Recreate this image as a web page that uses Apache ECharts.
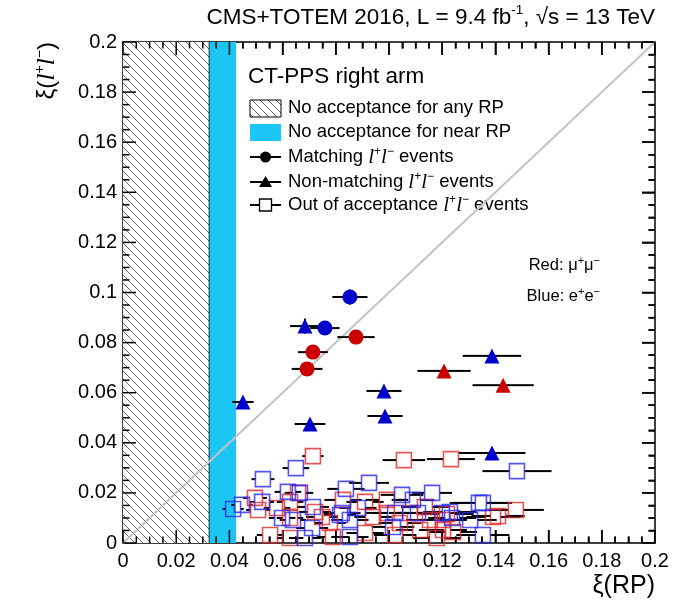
<!DOCTYPE html>
<html><head><meta charset="utf-8">
<script src="https://cdn.jsdelivr.net/npm/echarts@6/dist/echarts.min.js"></script>
<style>html,body{margin:0;padding:0;background:#fff}#c{width:681px;height:605px}</style>
</head><body><div id="c"></div>
<script>
// ---------- data ----------
const xRange = [0, 0.2];
const yRange = [0, 0.2];
const tickStep = 0.02;
const majorTicks = [0, 0.02, 0.04, 0.06, 0.08, 0.1, 0.12, 0.14, 0.16, 0.18, 0.2];
const minorTicks = [0.005, 0.01, 0.015, 0.025, 0.03, 0.035, 0.045, 0.05, 0.055, 0.065, 0.07, 0.075,
                    0.085, 0.09, 0.095, 0.105, 0.11, 0.115, 0.125, 0.13, 0.135, 0.145, 0.15, 0.155,
                    0.165, 0.17, 0.175, 0.185, 0.19, 0.195];
const noAccAnyRP = [0, 0.0325];       // xi range without acceptance for any RP
const noAccNearRP = [0.0325, 0.0425]; // xi range without acceptance for near RP
const diagonal = [[0, 0], [0.2, 0.2]];

// [xi(RP), xi(ll), err xi(RP), err xi(ll)]
const matchMuMu = [[0.0714,0.0762,0.0056,0],[0.0692,0.0695,0.0058,0],[0.0876,0.0822,0.0070,0]];
const matchEE   = [[0.0853,0.0982,0.0066,0.003],[0.0759,0.0858,0.0055,0.002]];
const nonMatchMuMu = [[0.1207,0.0687,0.0100,0],[0.1429,0.0630,0.0115,0]];
const nonMatchEE   = [[0.0684,0.0866,0.0056,0.003],[0.0451,0.0563,0.0040,0],[0.0703,0.0475,0.0058,0],
                      [0.0981,0.0607,0.0066,0],[0.0985,0.0507,0.0066,0],[0.1387,0.0747,0.0110,0.002],
                      [0.1387,0.0359,0.0126,0.0015]];
const outMuMu = [[0.0714,0.0347,0.0040,0],[0.1056,0.0331,0.0080,0],[0.1233,0.0335,0.0090,0],
  [0.0992,0.0172,0.0080,0],[0.0910,0.0164,0.0070,0],[0.1135,0.0144,0.0090,0],[0.1477,0.0132,0.0105,0],
  [0.1391,0.0104,0.0100,0],[0.1218,0.0116,0.0100,0],[0.1241,0.0044,0.0090,0],[0.1203,0.0052,0.0090,0],
  [0.1154,0.0092,0.0090,0],[0.1203,0.0092,0.0090,0],[0.1117,0.0052,0.0090,0],[0.1180,0.0020,0.0090,0],
  [0.1079,0.0120,0.0080,0],[0.0992,0.0120,0.0080,0],[0.1041,0.0080,0.0080,0],[0.1023,0.0032,0.0080,0],
  [0.0940,0.0104,0.0070,0],[0.0910,0.0040,0.0070,0],[0.0827,0.0172,0.0070,0],[0.0789,0.0024,0.0060,0],
  [0.0778,0.0080,0.0060,0],[0.0748,0.0104,0.0060,0],[0.0722,0.0124,0.0060,0],[0.0628,0.0020,0.0050,0],
  [0.0553,0.0032,0.0050,0],[0.0628,0.0100,0.0050,0],[0.0628,0.0164,0.0050,0],[0.0579,0.0140,0.0050,0],
  [0.0658,0.0200,0.0050,0],[0.0496,0.0180,0.0045,0],[0.0508,0.0132,0.0045,0],[0.1410,0.0108,0.0100,0]];
const outEE = [[0.0650,0.0299,0.0050,0],[0.0526,0.0255,0.0043,0],[0.1481,0.0287,0.0130,0],
  [0.0925,0.0240,0.0075,0],[0.0838,0.0216,0.0070,0],[0.1162,0.0200,0.0075,0],[0.1049,0.0192,0.0080,0],
  [0.1090,0.0172,0.0080,0],[0.1338,0.0160,0.0110,0],[0.1353,0.0160,0.0110,0],[0.1229,0.0124,0.0100,0],
  [0.1237,0.0100,0.0090,0],[0.1305,0.0092,0.0100,0],[0.1353,0.0032,0.0100,0],[0.1199,0.0120,0.0090,0],
  [0.1109,0.0120,0.0080,0],[0.1023,0.0120,0.0080,0],[0.1015,0.0064,0.0080,0],[0.0883,0.0140,0.0070,0],
  [0.0823,0.0120,0.0070,0],[0.0853,0.0092,0.0070,0],[0.0853,0.0024,0.0070,0],[0.0816,0.0112,0.0060,0],
  [0.0714,0.0144,0.0060,0],[0.0711,0.0060,0.0060,0],[0.0684,0.0020,0.0060,0],[0.0639,0.0092,0.0050,0],
  [0.0598,0.0100,0.0050,0],[0.0620,0.0204,0.0050,0],[0.0665,0.0200,0.0050,0],[0.0523,0.0164,0.0045,0],
  [0.0447,0.0152,0.0040,0],[0.0414,0.0136,0.0040,0]];

// ---------- styles ----------
const RED = '#cc0000', BLUE = '#0000cc', RED_O = '#e02a2a', BLUE_O = '#2a2ae6', CYAN = '#1cc6f4';
const FONT = '"Liberation Sans", Arial, Helvetica, sans-serif';

function hatchCanvas(){
  const s = 8, c = document.createElement('canvas'); c.width = s; c.height = s;
  const g = c.getContext('2d'); g.fillStyle = '#fff'; g.fillRect(0,0,s,s);
  g.strokeStyle = '#666'; g.lineWidth = 1;
  g.beginPath(); g.moveTo(-1,-1); g.lineTo(s+1,s+1);
  g.moveTo(-1,s-1); g.lineTo(1,s+1); g.moveTo(s-1,-1); g.lineTo(s+1,1); g.stroke();
  return c;
}
const HATCH_S = {image: hatchCanvas(), repeat: 'repeat'};
const HATCH_L = {image: hatchCanvas(), repeat: 'repeat'};

const chart = echarts.init(document.getElementById('c'), null, {renderer: 'canvas'});

function regionItem(fill, stroke){
  return function(params, api){
    const p0 = api.coord([api.value(0), yRange[1]]), p1 = api.coord([api.value(1), yRange[0]]);
    const ch = [{type:'rect', shape:{x:p0[0], y:p0[1], width:p1[0]-p0[0], height:p1[1]-p0[1]}, style:{fill: fill}}];
    if (stroke) ch.push({type:'line', shape:{x1:p1[0], y1:p0[1], x2:p1[0], y2:p1[1]}, style:{stroke:'#000', lineWidth:1.5}});
    return {type:'group', children: ch};
  };
}
function errItem(gap){
  return function(params, api){
    const x = api.value(0), y = api.value(1), ex = api.value(2), ey = api.value(3);
    const c = api.coord([x,y]), l = api.coord([x-ex,y]), r = api.coord([x+ex,y]);
    const st = {stroke:'#000', lineWidth:2};
    const ch = [];
    if (c[0]-gap > l[0]) ch.push({type:'line', shape:{x1:l[0],y1:c[1],x2:c[0]-gap,y2:c[1]}, style:st});
    if (r[0] > c[0]+gap) ch.push({type:'line', shape:{x1:c[0]+gap,y1:c[1],x2:r[0],y2:c[1]}, style:st});
    if (ey > 0){
      const t = api.coord([x,y+ey]), b = api.coord([x,y-ey]);
      ch.push({type:'line', shape:{x1:c[0],y1:t[1],x2:c[0],y2:b[1]}, style:st});
    }
    return {type:'group', children: ch};
  };
}
// inside ticks on all four frame sides, placed through the axis scales
function tickItem(params, api){
  const v = api.value(0), len = api.value(2);
  const b = api.coord([v, yRange[0]]), t = api.coord([v, yRange[1]]);
  const l = api.coord([xRange[0], v]), r = api.coord([xRange[1], v]);
  const st = {stroke:'#000', lineWidth:1.5};
  return {type:'group', children:[
    {type:'line', shape:{x1:b[0], y1:b[1], x2:b[0], y2:b[1]-len}, style:st},
    {type:'line', shape:{x1:t[0], y1:t[1], x2:t[0], y2:t[1]+len}, style:st},
    {type:'line', shape:{x1:l[0], y1:l[1], x2:l[0]+len, y2:l[1]}, style:st},
    {type:'line', shape:{x1:r[0], y1:r[1], x2:r[0]-len, y2:r[1]}, style:st}
  ]};
}
function errSeries(data, gap){
  return {type:'custom', data: data, renderItem: errItem(gap), encode:{x:0,y:1}, z:3, silent:true, clip:true};
}
function scat(data, symbol, size, fill, border){
  return {type:'scatter', data: data.map(d => [d[0], d[1]]), symbol: symbol, symbolSize: size, z:4, silent:true,
    itemStyle: border ? {color:'rgba(255,255,255,0)', borderColor: border, borderWidth: 1.6} : {color: fill, opacity: 1}};
}

const fmt = v => v === 0 ? '0' : String(+v.toFixed(3));
const axisCommon = {
  min: xRange[0], max: xRange[1], interval: tickStep,
  axisLine: {show:true, onZero:false, lineStyle:{color:'#000', width:1.5}},
  axisTick: {show:true, inside:true, length:13, lineStyle:{color:'#000', width:1.5}},
  minorTick: {show:true, splitNumber:4, length:6.5, lineStyle:{color:'#000', width:1.5}},
  splitLine: {show:false}
};
const labelStyle = {fontFamily: FONT, fontSize: 20, color:'#000', formatter: fmt, showMinLabel:true, showMaxLabel:true, hideOverlap:false};

const supR = {fontFamily: FONT, fontSize: 12, verticalAlign:'top', lineHeight: 22};
const ital = {fontFamily: '"Liberation Serif", "DejaVu Serif", serif', fontStyle:'italic', fontSize: 21, lineHeight: 22};
const base = {fontFamily: FONT, fontSize: 18.5, lineHeight: 22, color:'#000'};

function legendRow(y, marker, text){
  const ch = [];
  if (marker !== 'hatch' && marker !== 'cyan')
    ch.push({type:'line', shape:{x1:250,y1:y,x2:281,y2:y}, style:{stroke:'#000', lineWidth:2}});
  if (marker === 'hatch') ch.push({type:'rect', shape:{x:250,y:y-8,width:31,height:17}, style:{fill:HATCH_L, stroke:'#000', lineWidth:1}});
  if (marker === 'cyan') ch.push({type:'rect', shape:{x:250,y:y-8,width:31,height:17}, style:{fill:CYAN}});
  if (marker === 'circle') ch.push({type:'circle', shape:{cx:265.5,cy:y,r:5.5}, style:{fill:'#000'}});
  if (marker === 'tri') ch.push({type:'polygon', shape:{points:[[265.5,y-6],[272,y+5],[259,y+5]]}, style:{fill:'#000'}});
  if (marker === 'square') ch.push({type:'rect', shape:{x:259.5,y:y-6,width:12,height:12}, style:{fill:'#fff', stroke:'#000', lineWidth:1.3}});
  ch.push({type:'text', x:288, y:y, style:{text:text, rich:{b:base, i:ital, s:supR}, fontFamily:FONT, fontSize:18.5, fill:'#000', verticalAlign:'middle', align:'left'}});
  return ch;
}

const graphics = [
  {type:'text', x:655, y:16, style:{text:'{a|CMS+TOTEM 2016, L = 9.4 fb}{s|-1}{a|, √s = 13 TeV}', align:'right', verticalAlign:'middle',
    rich:{a:{fontFamily:FONT, fontSize:22.5, lineHeight:26, verticalAlign:'bottom'}, s:{fontFamily:FONT, fontSize:13.5, lineHeight:26, verticalAlign:'top'}}, fill:'#000'}},
  {type:'text', x:47, y:42, rotation: Math.PI/2, style:{text:'{a|ξ(}{i|l}{s|+}{i|l}{s|−}{a|)}', align:'right', verticalAlign:'middle',
    rich:{a:{fontFamily:FONT, fontSize:24, lineHeight:28}, i:{fontFamily:'"Liberation Serif", serif', fontStyle:'italic', fontSize:26, lineHeight:28}, s:{fontFamily:FONT, fontSize:14, lineHeight:28, verticalAlign:'top'}}, fill:'#000'}},
  {type:'text', x:655, y:586, style:{text:'ξ(RP)', fontFamily:FONT, fontSize:25, fill:'#000', align:'right', verticalAlign:'middle'}},
  {type:'text', x:248, y:77, style:{text:'CT-PPS right arm', fontFamily:FONT, fontSize:22.5, fill:'#000', verticalAlign:'middle'}},
  {type:'text', x:600, y:265, style:{text:'{a|Red: μ}{s|+}{a|μ}{s|−}', align:'right', verticalAlign:'middle',
    rich:{a:{fontFamily:FONT, fontSize:16.5, lineHeight:20}, s:{fontFamily:FONT, fontSize:11, lineHeight:20, verticalAlign:'top'}}, fill:'#000'}},
  {type:'text', x:600, y:296, style:{text:'{a|Blue: e}{s|+}{a|e}{s|−}', align:'right', verticalAlign:'middle',
    rich:{a:{fontFamily:FONT, fontSize:16.5, lineHeight:20}, s:{fontFamily:FONT, fontSize:11, lineHeight:20, verticalAlign:'top'}}, fill:'#000'}},
  ...legendRow(108, 'hatch', '{b|No acceptance for any RP}'),
  ...legendRow(132, 'cyan', '{b|No acceptance for near RP}'),
  ...legendRow(157, 'circle', '{b|Matching }{i|l}{s|+}{i|l}{s|−}{b| events}'),
  ...legendRow(182, 'tri', '{b|Non-matching }{i|l}{s|+}{i|l}{s|−}{b| events}'),
  ...legendRow(205, 'square', '{b|Out of acceptance }{i|l}{s|+}{i|l}{s|−}{b| events}')
];

const tickData = majorTicks.map(v => [v, yRange[0], 13]).concat(minorTicks.map(v => [v, yRange[0], 6.5]));

const option = {
  animation: false,
  backgroundColor: '#fff',
  grid: {left:123, right:26, top:42, bottom:62, containLabel:false, outerBoundsMode:'none'},
  xAxis: [
    Object.assign({type:'value', position:'bottom', axisLabel: Object.assign({margin:8}, labelStyle)}, axisCommon),
    Object.assign({type:'value', position:'top', axisLabel:{show:false}}, axisCommon)
  ],
  yAxis: [
    Object.assign({type:'value', position:'left', axisLabel: Object.assign({margin:6}, labelStyle)}, axisCommon, {min:yRange[0], max:yRange[1]}),
    Object.assign({type:'value', position:'right', axisLabel:{show:false}}, axisCommon, {min:yRange[0], max:yRange[1]})
  ],
  series: [
    {type:'custom', data:[noAccAnyRP], renderItem: regionItem(HATCH_S, true), encode:{x:[0,1]}, z:1, silent:true},
    {type:'custom', data:[noAccNearRP], renderItem: regionItem(CYAN, false), encode:{x:[0,1]}, z:1, silent:true},
    {type:'line', data: diagonal, symbol:'none', lineStyle:{color:'#c4c4c4', width:2}, z:2, silent:true},
    errSeries(outMuMu, 7.5), errSeries(outEE, 7.5),
    errSeries(nonMatchMuMu, 0), errSeries(nonMatchEE, 0),
    errSeries(matchMuMu, 0), errSeries(matchEE, 0),
    {type:'custom', data: tickData, renderItem: tickItem, encode:{x:0, y:1}, z:3, silent:true, clip:true},
    scat(outMuMu, 'rect', 15, null, RED_O), scat(outEE, 'rect', 15, null, BLUE_O),
    scat(nonMatchMuMu, 'triangle', 15, RED), scat(nonMatchEE, 'triangle', 15, BLUE),
    scat(matchMuMu, 'circle', 15, RED), scat(matchEE, 'circle', 15, BLUE)
  ],
  graphic: graphics
};
chart.setOption(option);
</script></body></html>
